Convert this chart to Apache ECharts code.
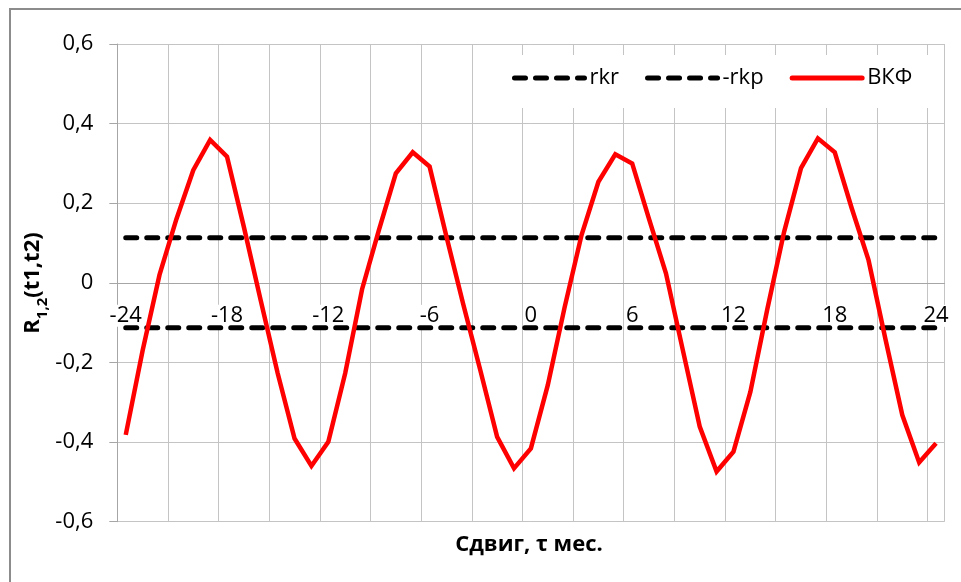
<!DOCTYPE html>
<html><head><meta charset="utf-8">
<script src="https://cdn.jsdelivr.net/npm/echarts@6/dist/echarts.min.js"></script>
<style>html,body{margin:0;padding:0;background:#fff}#c{width:961px;height:582px}</style>
</head><body><div id="c"></div>
<script>
const lags = ['-24','-23','-22','-21','-20','-19','-18','-17','-16','-15','-14','-13','-12',
  '-11','-10','-9','-8','-7','-6','-5','-4','-3','-2','-1','0',
  '1','2','3','4','5','6','7','8','9','10','11','12',
  '13','14','15','16','17','18','19','20','21','22','23','24'];
const vkf = [-0.382, -0.17, 0.02, 0.16, 0.283, 0.359, 0.317, 0.14, -0.045, -0.227, -0.391, -0.46, -0.399,
  -0.227, -0.016, 0.133, 0.275, 0.328, 0.292, 0.116, -0.055, -0.219, -0.387, -0.466, -0.416,
  -0.257, -0.061, 0.12, 0.254, 0.323, 0.300, 0.16, 0.024, -0.169, -0.361, -0.474, -0.424,
  -0.274, -0.067, 0.128, 0.288, 0.363, 0.328, 0.188, 0.057, -0.141, -0.332, -0.451, -0.403];
const rkr = 0.113;
const rkp = -0.113;
const seriesNames = ['rkr', '-rkp', 'ВКФ'];
const xTitle = 'Сдвиг, τ мес.';

const FONT = 'Open Sans';
const FS = 22;
const chart = echarts.init(document.getElementById('c'));
const dashStyle = {color: '#000', width: 5, type: [11, 10], cap: 'round'};
const first = lags[0], last = lags[lags.length - 1];
const GRID_TOP = 44, GRID_BOTTOM_Y = 521.7;
const zeroOffset = -(GRID_BOTTOM_Y - (GRID_TOP + GRID_BOTTOM_Y) / 2);

chart.setOption({
  animation: false,
  backgroundColor: '#fff',
  textStyle: {fontFamily: FONT},
  grid: {left: 117.3, right: 16.5, top: GRID_TOP, bottom: 582 - GRID_BOTTOM_Y, containLabel: false},
  legend: {
    left: 505, top: 55, padding: [12, 25, 19, 7], backgroundColor: '#fff',
    itemWidth: 70, itemHeight: 21, itemGap: 26,
    itemStyle: {opacity: 0},
    lineStyle: {width: 5, cap: 'round'},
    textStyle: {fontSize: FS, color: '#000', fontFamily: FONT},
    data: seriesNames
  },
  xAxis: {
    type: 'category', data: lags, boundaryGap: true, offset: zeroOffset,
    axisLine: {onZero: false, lineStyle: {color: '#a6a6a6', width: 1}},
    axisTick: {interval: 5, length: 8, lineStyle: {color: '#a6a6a6'}},
    axisLabel: {interval: 5, fontSize: FS, color: '#000', margin: 22, backgroundColor: '#fff', fontFamily: FONT},
    splitLine: {show: true, interval: (i) => i % 3 === 0, lineStyle: {color: '#c4c4c4', width: 1}}
  },
  yAxis: {
    type: 'value', min: -0.6, max: 0.6, interval: 0.2,
    axisLine: {show: true, lineStyle: {color: '#a6a6a6'}},
    axisTick: {show: true, length: 8, lineStyle: {color: '#a6a6a6'}},
    axisLabel: {fontSize: FS, color: '#000', margin: 24, fontFamily: FONT,
      formatter: v => { const r = Math.round(v * 10) / 10; return r === 0 ? '0' : r.toFixed(1).replace('.', ','); }},
    splitLine: {lineStyle: {color: '#c4c4c4', width: 1}}
  },
  series: [
    {name: seriesNames[0], type: 'line', symbol: 'none', lineStyle: dashStyle, itemStyle: {color: '#000', opacity: 0},
     data: [[first, rkr], [last, rkr]], z: 3},
    {name: seriesNames[1], type: 'line', symbol: 'none', lineStyle: dashStyle, itemStyle: {color: '#000', opacity: 0},
     data: [[first, rkp], [last, rkp]], z: 3},
    {name: seriesNames[2], type: 'line', symbol: 'none', itemStyle: {color: '#ff0000', opacity: 0},
     lineStyle: {color: '#ff0000', width: 4.5, join: 'miter'}, data: vkf, z: 4}
  ],
  graphic: [
    {type: 'rect', shape: {x: 10, y: 9, width: 1200, height: 900}, style: {fill: null, stroke: '#8c8c8c', lineWidth: 2}, silent: true, z: 100},
    {type: 'text', x: 33, y: 283, rotation: Math.PI / 2,
     style: {text: '{r|R}{s|1,2}{r|(t1,t2)}', align: 'center', verticalAlign: 'middle',
       rich: {r: {fontSize: FS, fontWeight: 'bold', fontFamily: FONT, fill: '#000', lineHeight: 26},
              s: {fontSize: 15, fontWeight: 'bold', fontFamily: FONT, fill: '#000', verticalAlign: 'bottom', lineHeight: 15, padding: [0, 0, -4, 0]}}}},
    {type: 'text', x: 529, y: 545,
     style: {text: xTitle, align: 'center', verticalAlign: 'middle', fontSize: FS, fontWeight: 'bold', fontFamily: FONT, fill: '#000'}}
  ]
});
</script></body></html>
